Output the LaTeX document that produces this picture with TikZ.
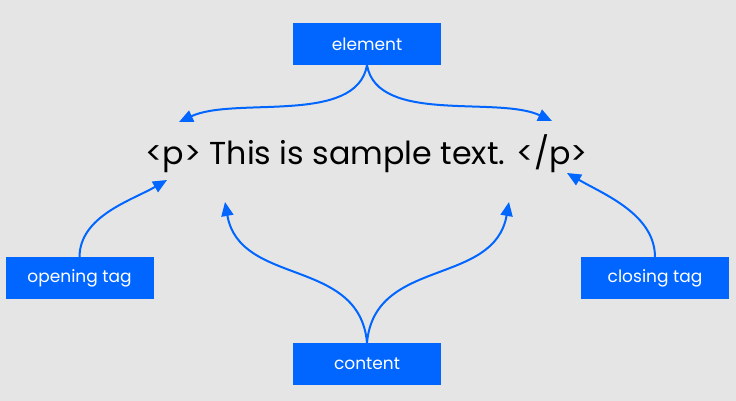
\documentclass[tikz,border=0pt]{standalone}
\usepackage{fontspec}
\setmainfont{Poppins}
\usetikzlibrary{arrows.meta}
\definecolor{bg}{HTML}{E5E5E5}
\definecolor{blu}{HTML}{0066FF}
\begin{document}
\begin{tikzpicture}[x=1pt,y=1pt,
  lbl/.style={fill=blu,text=white,minimum width=148pt,minimum height=42pt,inner sep=0pt,font=\fontsize{17}{20}\selectfont},
  conn/.style={draw=blu,line width=2pt,-{Triangle[length=14pt,width=12pt]}}]
\fill[bg] (0,0) rectangle (736,401);
\useasboundingbox (0,0) rectangle (736,401);
\node[lbl] (element) at (367,357) {element};
\node[lbl] (opening) at (79.5,122.5) {opening tag};
\node[lbl] (closing) at (655,122.5) {closing tag};
\node[lbl] (content) at (367,37) {content};
\node[anchor=base,inner sep=0pt,font=\fontsize{31.7}{36}\selectfont] (code) at (366.5,236) {<p> This is sample text. </p>};
\coordinate (elL) at (179,279);
\coordinate (elR) at (552,280);
\coordinate (opT) at (167,221);
\coordinate (clT) at (567,228);
\coordinate (coL) at (225,199);
\coordinate (coR) at (509,199);
\draw[conn] (element.south) to[out=-100,in=25,looseness=0.8] (elL);
\draw[conn] (element.south) to[out=-80,in=155,looseness=0.8] (elR);
\draw[conn] (opening.north) to[out=90,in=210,looseness=0.9] (opT);
\draw[conn] (closing.north) to[out=90,in=-30,looseness=0.9] (clT);
\draw[conn] (content.north) to[out=95,in=-80,looseness=1.1] (coL);
\draw[conn] (content.north) to[out=85,in=-100,looseness=1.1] (coR);
\end{tikzpicture}
\end{document}
